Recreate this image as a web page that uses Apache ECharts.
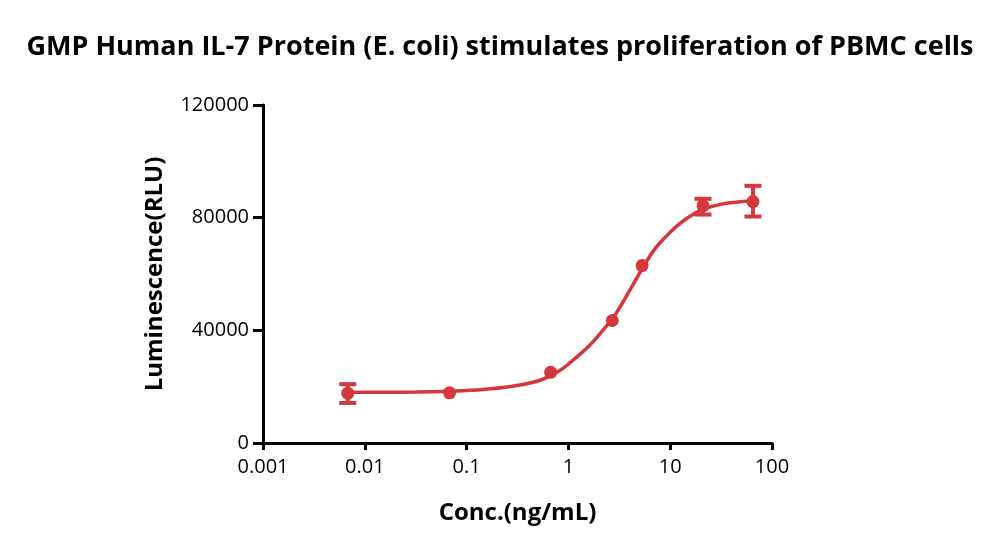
<!DOCTYPE html>
<html>
<head>
<meta charset="utf-8">
<script src="https://cdn.jsdelivr.net/npm/echarts@6/dist/echarts.min.js"></script>
<style>
html, body { margin: 0; padding: 0; background: #fff; }
#main { width: 1000px; height: 550px; }
</style>
</head>
<body>
<div id="main"></div>
<script>
// measured points (conc ng/mL, mean RLU)
var conc = [0.0068, 0.068, 0.67, 2.7, 5.3, 21, 65];
var meanRLU = [17700, 17800, 25100, 43500, 63000, 84200, 85700];
var errLow = [14200, null, null, null, null, 81100, 80400];
var errHigh = [20900, null, null, null, null, 86700, 91300];

// fitted curve
var fitConc = [0.0068, 0.032, 0.1, 0.25, 0.5, 0.8, 1, 1.6, 2.24, 2.7, 3.16, 4, 5.4, 7.1, 10, 13.5, 20, 32, 65];
var fitRLU = [18000, 18100, 18600, 19900, 22000, 25500, 28000, 34500, 40500, 44000, 47800, 54200, 62300, 69000, 74800, 78900, 82600, 84800, 86000];

var yTicks = [0, 40000, 80000, 120000];
var red = '#d4373c';
var fontFam = 'Open Sans';

var chartDom = document.getElementById('main');
var myChart = echarts.init(chartDom);

var pts = conc.map(function (c, i) { return [c, meanRLU[i]]; });
var fit = fitConc.map(function (c, i) { return [c, fitRLU[i]]; });
var errs = [];
conc.forEach(function (c, i) {
    if (errLow[i] != null) errs.push([c, errLow[i], errHigh[i]]);
});

var option = {
    animation: false,
    title: {
        text: 'GMP Human IL-7 Protein (E. coli) stimulates proliferation of PBMC cells',
        left: 'center',
        top: 29,
        textStyle: { fontFamily: fontFam, fontWeight: 'bold', fontSize: 27, color: '#000' }
    },
    grid: { left: 263, right: 228, top: 105, bottom: 107 },
    xAxis: {
        type: 'log',
        logBase: 10,
        min: 0.001,
        max: 100,
        name: 'Conc.(ng/mL)',
        nameLocation: 'middle',
        nameGap: 58,
        nameTextStyle: { fontFamily: fontFam, fontWeight: 'bold', fontSize: 24, color: '#000' },
        axisLine: { lineStyle: { color: '#000', width: 3 } },
        axisTick: { inside: false, length: 7, lineStyle: { color: '#000', width: 3 } },
        axisLabel: {
            fontFamily: fontFam, fontSize: 20, color: '#000', margin: 14,
            formatter: function (v) { return String(v); }
        },
        splitLine: { show: false },
        minorTick: { show: false }
    },
    yAxis: {
        type: 'value',
        min: yTicks[0],
        max: yTicks[yTicks.length - 1],
        interval: 40000,
        name: 'Luminescence(RLU)',
        nameLocation: 'middle',
        nameGap: 96,
        nameTextStyle: { fontFamily: fontFam, fontWeight: 'bold', fontSize: 24, color: '#000' },
        axisLine: { show: true, lineStyle: { color: '#000', width: 3 } },
        axisTick: { show: true, length: 10, lineStyle: { color: '#000', width: 3 } },
        axisLabel: {
            fontFamily: fontFam, fontSize: 20, color: '#000', margin: 14,
            formatter: function (v) { return String(v); }
        },
        splitLine: { show: false }
    },
    series: [
        {
            name: 'fit',
            type: 'line',
            data: fit,
            smooth: 0.4,
            showSymbol: false,
            lineStyle: { color: red, width: 3.5 },
            z: 2
        },
        {
            name: 'error',
            type: 'custom',
            data: errs,
            renderItem: function (params, api) {
                var x = api.value(0);
                var lo = api.coord([x, api.value(1)]);
                var hi = api.coord([x, api.value(2)]);
                var hw = 8.5;
                var st = { stroke: red, lineWidth: 4 };
                return {
                    type: 'group',
                    children: [
                        { type: 'line', shape: { x1: lo[0], y1: lo[1], x2: hi[0], y2: hi[1] }, style: st },
                        { type: 'line', shape: { x1: lo[0] - hw, y1: lo[1], x2: lo[0] + hw, y2: lo[1] }, style: st },
                        { type: 'line', shape: { x1: hi[0] - hw, y1: hi[1], x2: hi[0] + hw, y2: hi[1] }, style: st }
                    ]
                };
            },
            z: 3
        },
        {
            name: 'points',
            type: 'scatter',
            data: pts,
            symbol: 'circle',
            symbolSize: 13,
            itemStyle: { color: red, opacity: 1 },
            z: 4
        }
    ]
};

option && myChart.setOption(option);
</script>
</body>
</html>
